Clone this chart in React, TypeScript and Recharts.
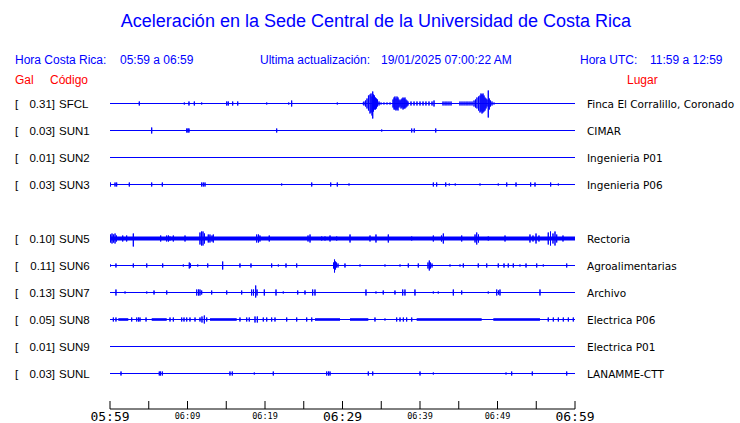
import { LineChart, Line, XAxis, YAxis, ReferenceArea } from 'recharts';

const BLUE = '#0000ff';
const AMP = 27; // amplitude units per row

// station rows (row 4 is empty, no SUN4)
const rows = [0, 1, 2, 3, 5, 6, 7, 8, 9, 10];
const peakGal = ['0.31', '0.03', '0.01', '0.03', '0.10', '0.11', '0.13', '0.05', '0.01', '0.03'];
const codes = ['SFCL', 'SUN1', 'SUN2', 'SUN3', 'SUN5', 'SUN6', 'SUN7', 'SUN8', 'SUN9', 'SUNL'];
const places = [
  'Finca El Corralillo, Coronado',
  'CIMAR',
  'Ingenieria P01',
  'Ingenieria P06',
  'Rectoria',
  'Agroalimentarias',
  'Archivo',
  'Electrica P06',
  'Electrica P01',
  'LANAMME-CTT',
];

// minutes after 05:59
const timeTicks = [0, 5, 10, 15, 20, 25, 30, 35, 40, 45, 50, 55, 60];
const timeLabels = ['05:59', '', '06:09', '', '06:19', '', '06:29', '', '06:39', '', '06:49', '', '06:59'];
const majorLabels = ['05:59', '06:29', '06:59'];

// spikes: [minute, up, down?]
const sfcl = [
  [3.78, 2], [9.59, 1], [10.19, 2], [10.88, 2], [11.83, 1], [15.06, 2], [15.26, 2], [15.83, 2],
  [16.48, 2], [20.22, 1], [23.06, 1], [23.44, 3], [29.33, 1], [32.68, 1],
  [32.77, 2], [32.97, 3], [33.16, 5], [33.35, 8, 7], [33.55, 9, 10], [33.68, 10, 9], [33.81, 7, 12],
  [33.9, 12, 15], [34.0, 9, 8], [34.13, 8, 6], [34.26, 6], [34.39, 5], [34.52, 4, 3], [34.71, 2],
  [34.97, 1], [35.35, 1], [35.74, 1], [36.13, 1],
  [36.52, 4], [36.65, 6], [36.77, 7, 6], [36.9, 5, 7], [37.03, 7, 6], [37.16, 6, 7], [37.29, 4],
  [37.42, 3], [37.55, 4, 5], [37.68, 5, 4], [37.81, 6], [37.94, 5], [38.06, 6, 5], [38.19, 4],
  [38.32, 3], [38.45, 2],
  [38.84, 2], [39.23, 2], [39.61, 2], [40.0, 2], [40.39, 2], [40.77, 2], [41.16, 2], [41.55, 2], [41.81, 3],
  [42.97, 2], [43.23, 2], [43.48, 2], [43.74, 2], [44.0, 2],
  [45.16, 2], [45.42, 2], [45.68, 2], [45.94, 2], [46.19, 2], [46.45, 2], [46.71, 2],
  [46.97, 3], [47.16, 4], [47.35, 6, 5], [47.55, 7], [47.74, 8, 9], [47.87, 10, 8], [48.0, 9, 10],
  [48.13, 10, 9], [48.26, 8], [48.39, 6, 7], [48.52, 5], [48.65, 4, 3], [48.81, 13, 14], [48.94, 5, 6],
  [49.1, 3], [49.29, 2], [49.55, 1],
];
const sun1 = [
  [5.38, 3], [9.9, 2], [10.06, 2], [10.19, 2], [21.51, 2], [35.06, 1], [38.93, 2], [39.26, 2], [42.03, 2],
];
const sun2: number[][] = [];
const sun3 = [
  [0.05, 2], [0.65, 2], [0.86, 2], [2.49, 2], [5.38, 2], [6.75, 2], [11.83, 2], [12.04, 2], [12.26, 2],
  [22.15, 1], [26.03, 2], [28.48, 2], [29.33, 2], [30.84, 1], [41.72, 2], [42.15, 2], [43.32, 2],
  [43.78, 1], [44.55, 1], [47.74, 1], [50.1, 1], [51.19, 2], [52.39, 2], [54.28, 2], [54.84, 2],
  [56.86, 2], [57.85, 1],
];
const sun5 = [
  [0.06, 4], [0.26, 5], [0.45, 4], [0.65, 5], [0.84, 3], [1.64, 3], [2.15, 3], [3.01, 5, 8], [6.54, 3],
  [7.32, 3], [7.55, 3], [7.74, 2], [8.17, 3], [9.68, 3], [11.61, 6], [11.81, 7], [12.0, 7], [12.19, 5],
  [12.68, 4], [12.9, 4], [13.16, 3], [13.33, 4], [18.93, 4], [19.16, 4], [19.35, 3], [20.55, 3],
  [25.55, 3], [25.81, 4], [27.32, 2], [27.74, 2], [28.39, 3], [29.25, 2], [30.97, 4], [33.55, 3],
  [34.32, 4], [35.91, 4], [38.93, 2], [41.72, 3], [42.77, 3], [43.01, 5], [45.38, 3], [47.1, 4],
  [47.32, 6], [47.55, 4], [48.81, 2], [50.97, 3], [54.19, 4], [54.58, 3], [54.97, 5], [55.35, 3],
  [56.55, 6], [56.84, 7], [57.16, 5], [57.42, 7], [57.64, 4], [58.45, 3],
];
const sun6 = [
  [0.06, 1], [0.77, 2], [3.01, 2], [4.74, 2], [6.8, 2], [9.46, 1], [10.23, 3], [10.39, 2], [11.32, 1],
  [12.61, 2], [14.54, 4], [16.77, 2], [18.19, 2], [20.86, 2], [21.72, 1], [22.71, 2], [24.09, 2],
  [28.84, 3], [28.97, 6, 7], [29.1, 4], [29.23, 3, 2], [29.42, 2], [30.32, 2], [32.26, 1], [35.48, 1],
  [37.42, 1], [38.49, 2], [39.78, 2], [41.03, 3], [41.2, 5], [41.35, 3], [41.55, 2], [43.87, 1],
  [45.16, 1], [45.59, 2], [47.52, 2], [48.61, 2], [50.1, 2], [50.84, 2], [51.39, 2], [52.04, 2],
  [52.9, 1], [53.68, 2], [55.06, 2], [55.91, 1], [58.93, 2],
];
const sun7 = [
  [0.77, 3], [1.94, 1], [4.74, 1], [5.68, 2], [7.32, 2], [11.19, 3], [11.42, 3], [11.61, 3], [11.83, 2],
  [13.12, 2], [15.06, 2], [16.99, 2], [18.28, 3], [18.52, 3], [18.8, 7, 5], [18.97, 3], [19.91, 3],
  [21.42, 3], [22.36, 1], [24.22, 2], [25.16, 2], [26.15, 3], [26.45, 3], [33.03, 3], [34.32, 1],
  [35.26, 2], [36.77, 2], [37.77, 3], [38.06, 3], [39.35, 3], [41.72, 1], [42.36, 1], [44.3, 3],
  [45.38, 2], [48.81, 1], [49.9, 3], [50.13, 2], [50.32, 3], [55.48, 3],
];
const sun8 = [
  [0.43, 2], [0.77, 2], [2.8, 2], [3.45, 2], [3.68, 2], [3.87, 2], [4.65, 2], [7.74, 2], [8.17, 2],
  [9.25, 2], [9.55, 2], [9.9, 2], [10.32, 2], [10.97, 2], [11.61, 2], [11.87, 3], [12.17, 4], [12.48, 2],
  [16.77, 2], [17.64, 2], [17.97, 2], [18.71, 3], [19.01, 3], [19.78, 2], [20.22, 2], [20.86, 2],
  [21.29, 2], [22.8, 2], [24.09, 2], [25.38, 2], [26.03, 2], [34.19, 2], [35.48, 1], [36.99, 2],
  [37.42, 2], [37.85, 2], [38.28, 2], [38.93, 2], [56.55, 2], [57.2, 2], [57.85, 2], [58.49, 2],
  [59.14, 2], [59.78, 2],
];
// dense noise stretches on SUN8: [from, to, amp]
const sun8Bands = [
  [1.07, 2.36, 1.5], [5.38, 7.32, 1.5], [12.9, 16.35, 1.5], [26.45, 29.68, 1.5], [30.97, 33.33, 1.5],
  [39.57, 47.96, 1.5], [49.46, 55.48, 1.5],
];
const sun9: number[][] = [];
const sunl = [
  [1.42, 2], [6.36, 2], [6.52, 2], [6.75, 2], [15.48, 2], [15.78, 2], [18.62, 1], [21.07, 2],
  [27.96, 2], [28.19, 2], [28.39, 2], [33.33, 2], [33.9, 2], [40.0, 2], [41.72, 1], [51.1, 1],
  [51.83, 2], [54.49, 2], [58.93, 2],
];

const spikes = [sfcl, sun1, sun2, sun3, sun5, sun6, sun7, sun8, sun9, sunl];

const buildTrace = (row: number, list: number[][]) => {
  const pts = [{ t: 0, v: row }];
  [...list].sort((a, b) => a[0] - b[0]).forEach(([t, up, down]) => {
    const dn = down === undefined ? up : down;
    pts.push({ t, v: row }, { t, v: row - up / AMP }, { t, v: row + dn / AMP }, { t, v: row });
  });
  pts.push({ t: 60, v: row });
  return pts;
};

const TimeTick = (props: any) => {
  const { x, y, payload } = props;
  const label = timeLabels[timeTicks.indexOf(payload.value)];
  const major = majorLabels.includes(label);
  return (
    <g>
      <line x1={x} x2={x} y1={y - 8} y2={y} stroke="#000" />
      {label && (
        <text
          x={x}
          y={major ? y + 12 : y + 10}
          textAnchor="middle"
          fontFamily="DejaVu Sans Mono"
          fontSize={major ? 13 : 8.5}
          fill="#000"
        >
          {label}
        </text>
      )}
    </g>
  );
};

const CodeTick = (props: any) => {
  const { y, payload } = props;
  const i = rows.indexOf(payload.value);
  if (i < 0) return null;
  return (
    <g fontFamily="Liberation Sans" fontSize={11.5} fill="#000">
      <text x={15} y={y + 4}>[</text>
      <text x={55} y={y + 4} textAnchor="end">{peakGal[i] + ']'}</text>
      <text x={59} y={y + 4}>{codes[i]}</text>
    </g>
  );
};

const PlaceTick = (props: any) => {
  const { y, payload } = props;
  const i = rows.indexOf(payload.value);
  if (i < 0) return null;
  return (
    <text x={587} y={y + 4} fontFamily="DejaVu Sans" fontSize={10.5} fill="#000">
      {places[i]}
    </text>
  );
};

const txt = (left: number, top: number, color: string, size: number, s: string) => (
  <div
    style={{
      position: 'absolute',
      left,
      top,
      color,
      fontSize: size,
      fontFamily: 'Liberation Sans, Arial, sans-serif',
      whiteSpace: 'pre',
      lineHeight: 1,
    }}
  >
    {s}
  </div>
);

export default function App() {
  return (
    <div style={{ position: 'absolute', left: 0, top: 0, width: 740, height: 423, background: '#fff' }}>
      <div
        style={{
          position: 'absolute',
          left: 0,
          top: 12,
          width: 752,
          textAlign: 'center',
          color: BLUE,
          fontSize: 18,
          fontFamily: 'Liberation Sans, Arial, sans-serif',
          lineHeight: 1,
        }}
      >
        Aceleración en la Sede Central de la Universidad de Costa Rica
      </div>
      {txt(15, 54, BLUE, 12, 'Hora Costa Rica:')}
      {txt(120, 54, BLUE, 12, '05:59 a 06:59')}
      {txt(260, 54, BLUE, 12, 'Ultima actualización:')}
      {txt(381, 54, BLUE, 12, '19/01/2025 07:00:22 AM')}
      {txt(580, 54, BLUE, 12, 'Hora UTC:')}
      {txt(650, 54, BLUE, 12, '11:59 a 12:59')}
      {txt(15, 74, '#ff0000', 12, 'Gal')}
      {txt(50, 74, '#ff0000', 12, 'Código')}
      {txt(627, 74, '#ff0000', 12, 'Lugar')}
      <div style={{ position: 'absolute', left: 0, top: 0 }}>
        <LineChart width={740} height={423} margin={{ top: 90, right: 0, bottom: 0, left: 0 }}>
          <XAxis
            type="number"
            dataKey="t"
            domain={[0, 60]}
            ticks={timeTicks}
            interval={0}
            allowDataOverflow
            height={14}
            tickSize={0}
            tickMargin={0}
            tickLine={false}
            axisLine={{ stroke: '#000' }}
            tick={<TimeTick />}
          />
          <YAxis
            yAxisId="l"
            type="number"
            domain={[-0.5, 11.3148]}
            reversed
            ticks={rows}
            interval={0}
            allowDataOverflow
            width={110}
            tickSize={0}
            tickMargin={0}
            tickLine={false}
            axisLine={false}
            tick={<CodeTick />}
          />
          <YAxis
            yAxisId="r"
            orientation="right"
            type="number"
            domain={[-0.5, 11.3148]}
            reversed
            ticks={rows}
            interval={0}
            allowDataOverflow
            width={165}
            tickSize={0}
            tickMargin={0}
            tickLine={false}
            axisLine={false}
            tick={<PlaceTick />}
          />
          {sun8Bands.map(([a, b, amp], k) => (
            <ReferenceArea
              key={'b' + k}
              yAxisId="l"
              x1={a}
              x2={b}
              y1={rows[7] - amp / AMP}
              y2={rows[7] + amp / AMP}
              fill={BLUE}
              fillOpacity={0.8}
              stroke="none"
            />
          ))}
          <Line
            yAxisId="l"
            data={buildTrace(rows[4], [])}
            dataKey="v"
            stroke={BLUE}
            strokeWidth={4}
            dot={false}
            activeDot={false}
            isAnimationActive={false}
          />
          {rows.map((row, i) => (
            <Line
              key={codes[i]}
              yAxisId="l"
              data={buildTrace(row, spikes[i])}
              dataKey="v"
              stroke={BLUE}
              strokeWidth={1}
              dot={false}
              activeDot={false}
              isAnimationActive={false}
            />
          ))}
        </LineChart>
      </div>
    </div>
  );
}
